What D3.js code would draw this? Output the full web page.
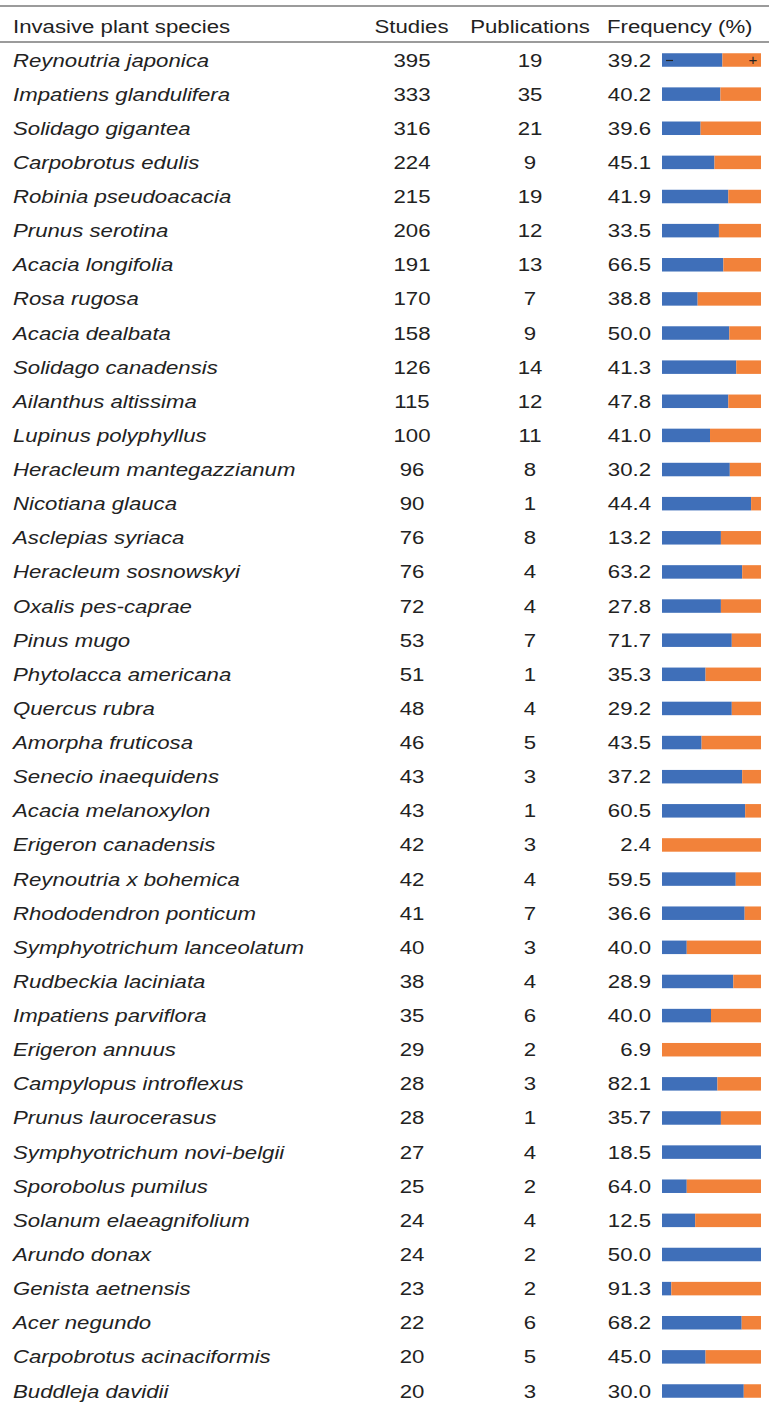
<!DOCTYPE html>
<html>
<head>
<meta charset="utf-8">
<script src="https://cdn.jsdelivr.net/npm/d3@7"></script>
<style>
  body { margin: 0; background: #fff; }
  text { font-family: "Liberation Sans", Arial, sans-serif; fill: #222; }
</style>
</head>
<body>
<div id="my_dataviz"></div>
<script>
// table data
var species = ["Reynoutria japonica", "Impatiens glandulifera", "Solidago gigantea", "Carpobrotus edulis",
  "Robinia pseudoacacia", "Prunus serotina", "Acacia longifolia", "Rosa rugosa", "Acacia dealbata",
  "Solidago canadensis", "Ailanthus altissima", "Lupinus polyphyllus", "Heracleum mantegazzianum",
  "Nicotiana glauca", "Asclepias syriaca", "Heracleum sosnowskyi", "Oxalis pes-caprae", "Pinus mugo",
  "Phytolacca americana", "Quercus rubra", "Amorpha fruticosa", "Senecio inaequidens", "Acacia melanoxylon",
  "Erigeron canadensis", "Reynoutria x bohemica", "Rhododendron ponticum", "Symphyotrichum lanceolatum",
  "Rudbeckia laciniata", "Impatiens parviflora", "Erigeron annuus", "Campylopus introflexus",
  "Prunus laurocerasus", "Symphyotrichum novi-belgii", "Sporobolus pumilus", "Solanum elaeagnifolium",
  "Arundo donax", "Genista aetnensis", "Acer negundo", "Carpobrotus acinaciformis", "Buddleja davidii"];

var studies = [395, 333, 316, 224, 215, 206, 191, 170, 158, 126, 115, 100, 96, 90, 76, 76, 72, 53, 51, 48,
  46, 43, 43, 42, 42, 41, 40, 38, 35, 29, 28, 28, 27, 25, 24, 24, 23, 22, 20, 20];

var publications = [19, 35, 21, 9, 19, 12, 13, 7, 9, 14, 12, 11, 8, 1, 8, 4, 4, 7, 1, 4,
  5, 3, 1, 3, 4, 7, 3, 4, 6, 2, 3, 1, 4, 2, 4, 2, 2, 6, 5, 3];

var frequency = ["39.2", "40.2", "39.6", "45.1", "41.9", "33.5", "66.5", "38.8", "50.0", "41.3",
  "47.8", "41.0", "30.2", "44.4", "13.2", "63.2", "27.8", "71.7", "35.3", "29.2",
  "43.5", "37.2", "60.5", "2.4", "59.5", "36.6", "40.0", "28.9", "40.0", "6.9",
  "82.1", "35.7", "18.5", "64.0", "12.5", "50.0", "91.3", "68.2", "45.0", "30.0"];

// share of negative effects (blue part of each bar)
var negShare = [0.61, 0.59, 0.39, 0.53, 0.67, 0.575, 0.62, 0.36, 0.68, 0.75,
  0.67, 0.485, 0.685, 0.90, 0.595, 0.81, 0.595, 0.705, 0.44, 0.705,
  0.40, 0.81, 0.84, 0.0, 0.745, 0.835, 0.25, 0.72, 0.495, 0.0,
  0.56, 0.595, 1.0, 0.25, 0.335, 1.0, 0.094, 0.805, 0.44, 0.826];

var headers = ["Invasive plant species", "Studies", "Publications", "Frequency (%)"];

var width = 769, height = 1403;
var fontSize = 18.5, stretch = 1.2;

var svg = d3.select("#my_dataviz")
  .append("svg")
    .attr("width", width)
    .attr("height", height);

// row positions
var y = d3.scalePoint()
  .domain(d3.range(species.length))
  .range([60, 1391]);

// bar scale
var x = d3.scaleLinear()
  .domain([0, 1])
  .range([662, 761]);

var barH = 13.5;

function addText(g, tx, ty, str, anchor, italic) {
  g.append("text")
    .attr("transform", "translate(" + tx + "," + ty + ") scale(" + stretch + ",1)")
    .attr("text-anchor", anchor)
    .style("font-size", fontSize + "px")
    .style("font-style", italic ? "italic" : "normal")
    .text(str);
}

// rules
svg.append("line").attr("x1", 0).attr("x2", width).attr("y1", 6).attr("y2", 6)
  .attr("stroke", "#7a7a7a").attr("stroke-width", 1.5);
svg.append("line").attr("x1", 0).attr("x2", width).attr("y1", 42).attr("y2", 42)
  .attr("stroke", "#7a7a7a").attr("stroke-width", 1.5);

// header
var head = svg.append("g");
addText(head, 13, 33, headers[0], "start", false);
addText(head, 411.5, 33, headers[1], "middle", false);
addText(head, 530, 33, headers[2], "middle", false);
addText(head, 607, 33, headers[3], "start", false);

// rows
var rows = svg.append("g");
species.forEach(function(s, i) {
  var base = y(i) + 6.5;
  addText(rows, 13, base, s, "start", true);
  addText(rows, 412, base, studies[i], "middle", false);
  addText(rows, 530, base, publications[i], "middle", false);
  addText(rows, 651, base, frequency[i], "end", false);
});

// bars
var bars = svg.append("g");
bars.selectAll(".neg")
  .data(negShare)
  .enter().append("rect")
    .attr("x", x(0))
    .attr("y", function(d, i) { return y(i) - barH / 2; })
    .attr("width", function(d) { return x(d) - x(0); })
    .attr("height", barH)
    .attr("fill", "#3f6fb9");
bars.selectAll(".pos")
  .data(negShare)
  .enter().append("rect")
    .attr("x", function(d) { return x(d); })
    .attr("y", function(d, i) { return y(i) - barH / 2; })
    .attr("width", function(d) { return x(1) - x(d); })
    .attr("height", barH)
    .attr("fill", "#f2823a");

// sign labels on first bar
bars.append("line")
  .attr("x1", x(0) + 4).attr("x2", x(0) + 11)
  .attr("y1", y(0) + 0.5).attr("y2", y(0) + 0.5)
  .attr("stroke", "#222").attr("stroke-width", 1.2);
bars.append("text")
  .attr("x", x(1) - 8).attr("y", y(0) + 5)
  .attr("text-anchor", "middle")
  .style("font-size", "15px")
  .text("+");
</script>
</body>
</html>
